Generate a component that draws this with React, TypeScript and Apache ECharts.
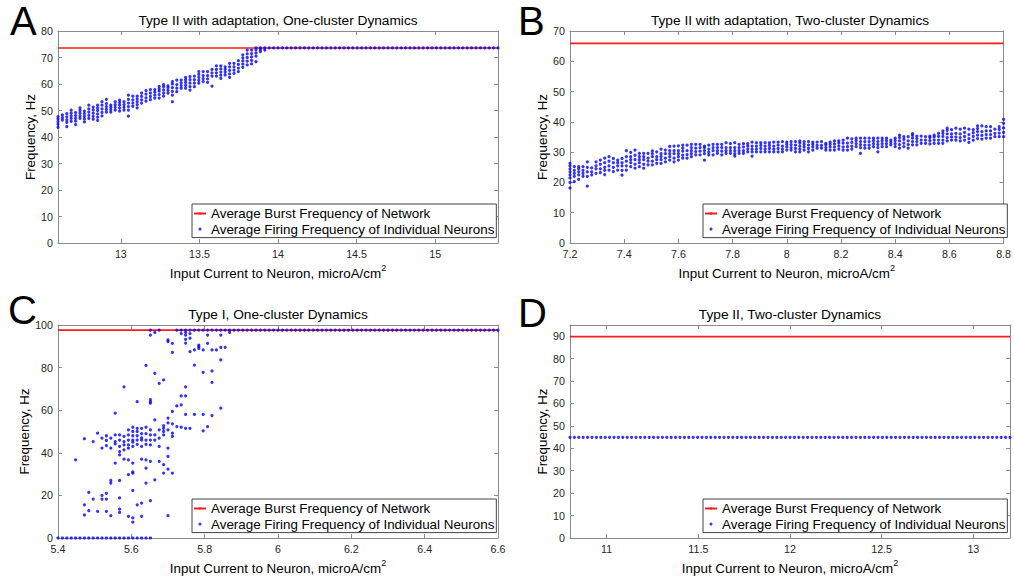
import React, { useEffect, useRef } from "react";
import * as echarts from "echarts";

const FONT = '"Liberation Sans", Arial, Helvetica, sans-serif';

const BURST = "Average Burst Frequency of Network";
const FIRING = "Average Firing Frequency of Individual Neurons";
const X_NAME = "Input Current to Neuron, microA/cm{sup|2}";
const Y_NAME = "Frequency, Hz";

// ---------- Panel A : Type II with adaptation, One-cluster ----------
const aTitle = "Type II with adaptation, One-cluster Dynamics";
const aStart = 12.6;
const aStep = 0.028;
const aCount = 101;
const aXRange = [12.6, 15.4];
const aYMax = 80;
const aYStep = 10;
const aBurst = 73.6;
const aLocked = 73.6; // columns after the listed ones are locked to the burst
const aCols: number[][] = [
  [43.6, 44.8, 45.8, 46.8, 47.7],
  [46.4, 47.3, 48.3],
  [43.9, 45.5, 46.5, 47.6, 48.8],
  [45.9, 47, 48, 49, 50.1],
  [44.7, 46, 47, 48.1, 49.2],
  [47, 48, 49, 50, 51],
  [45.7, 46.8, 47.8, 48.8, 49.8],
  [47, 48.2, 49.4, 50.6, 52],
  [46.7, 47.8, 49, 50.2, 51.3],
  [46.3, 47.5, 48.7, 50, 51, 52],
  [48, 49.3, 50.6, 52, 53.3],
  [49.4, 50.4, 51.5, 52.6, 54.2],
  [49.4, 50.3, 51.2, 52],
  [50.1, 51.2, 52.2, 53.3],
  [49.8, 50.9, 52, 53, 53.9],
  [50.1, 51.2, 52.2, 53.3],
  [47.9, 50.1, 51.5, 52.8, 54.2, 55.8],
  [51.6, 52.8, 54, 55.4],
  [51, 52.2, 53.3, 54.4, 55.4],
  [52.8, 54, 55.3, 56.6],
  [53.5, 54.8, 56.2, 57.5],
  [54.1, 55.3, 56.6, 57.9],
  [54.7, 55.8, 56.9, 57.9],
  [54.7, 56, 57.3, 58.2, 59.1],
  [55.4, 56.6, 57.8, 59, 59.8],
  [56.6, 57.6, 58.6, 59.3],
  [53.3, 55.8, 57.2, 58.6, 60, 60.9],
  [57.1, 58.4, 59.8, 61.5],
  [58.4, 59.4, 60.4, 61.5],
  [58.4, 59.5, 60.6, 61.6, 62.5],
  [57.7, 59, 60.3, 61.6, 62.8],
  [59, 60.3, 61.6, 63],
  [60.3, 61.4, 62.5, 63.6, 64.7],
  [60.9, 62, 63.2, 64.7],
  [60.6, 61.9, 63.2, 64.7],
  [59.2, 63, 64.2, 65.5],
  [63, 64.2, 65.5, 66.8],
  [62.1, 63.3, 64.5, 65.7, 66.8],
  [63.4, 64.5, 65.5, 66.5],
  [62.5, 63.8, 65.1, 66.5, 67.8],
  [64, 65.2, 66.5, 67.8],
  [64.7, 66, 67.4, 68.8],
  [66.3, 67.5, 68.7, 69.9, 71],
  [67.2, 68.6, 70, 71.4, 72.8],
  [67.6, 68.9, 70.2, 71.5, 72.8],
  [68.4, 70.5, 71.7, 72.9, 73.6],
  [72.2, 73, 73.6],
  [72.8, 73.6],
];

// ---------- Panel B : Type II with adaptation, Two-cluster ----------
const bTitle = "Type II with adaptation, Two-cluster Dynamics";
const bStart = 7.2;
const bStep = 0.016;
const bCount = 101;
const bXRange = [7.2, 8.8];
const bXStep = 0.2;
const bYMax = 70;
const bYStep = 10;
const bBurst = 65.9;
const bCols: number[][] = [
  [18.2, 20, 21.5, 22.5, 23.5, 24.5, 25.5, 26.3],
  [20.3, 22, 23, 24, 25.2],
  [21, 22.5, 23.5, 24.5, 25.2],
  [22, 23, 24, 25.2],
  [18.8, 22, 23.5, 25, 26.8],
  [22.5, 23.5, 24.8],
  [23, 24.5, 25.5, 26.8],
  [23.2, 24.5, 26, 27.4],
  [22.6, 24, 25, 26.5, 28],
  [24.1, 25.5, 27, 28.5],
  [23.6, 25, 26.5, 27.9],
  [24.1, 25.5, 26.5, 27.4],
  [22.4, 24, 25.5, 26.5, 27.9],
  [24.1, 25.5, 27, 28.5, 30.5],
  [25.2, 26.5, 27.5, 28.5, 29.9],
  [24.7, 26, 27.5, 29, 30.7],
  [25.2, 26.5, 27.5, 28.5, 29.6],
  [24.7, 26, 27.5, 28.5, 29.6],
  [25.8, 27, 28, 29.6],
  [25.8, 27, 28.5, 29.5, 30.4],
  [26.3, 27.5, 28.5, 30.1],
  [26.3, 27.5, 28.5, 29.5, 31],
  [26.8, 28, 29.5, 30.7],
  [27.4, 28.5, 29.5, 30.5, 31.9],
  [26.8, 28, 29.5, 30.5, 32],
  [27.4, 28.5, 29.5, 30.5, 32.1],
  [28, 29, 30.3, 31.3, 32.3],
  [28, 29.2, 30.5, 32.3],
  [28.5, 29.5, 30.5, 31.5, 32.6],
  [29.1, 30.2, 31.3, 32.6],
  [29.1, 30.3, 31.5, 32.6],
  [27.4, 29.5, 30.5, 31.5, 32],
  [29.1, 30, 31, 32.3],
  [29.1, 30.5, 31.5, 32.6],
  [29.6, 30.5, 31.5, 32.6],
  [29.1, 30.3, 31.5, 32.6],
  [29.6, 30.5, 31.5, 33.1],
  [29.6, 30.5, 31.5, 32.8],
  [28.7, 29.5, 30.5, 31.5, 33.1],
  [29.6, 30.5, 31.5, 32.6],
  [29.6, 30.5, 31.7, 32.8],
  [30.1, 31, 32, 32.8],
  [28.7, 30.1, 31, 32, 33.3],
  [30.1, 31, 32, 33.1],
  [30.1, 31.2, 32.2, 33.1],
  [30.1, 31, 32, 33.1],
  [30.1, 31.2, 32.2, 33.1],
  [30.1, 31, 32, 33.3],
  [30.1, 31.2, 32.3, 33.3],
  [30.1, 31, 32, 33.5],
  [30.7, 31.7, 32.6, 33.3],
  [30.7, 31.5, 32.5, 33.5],
  [30.1, 31.2, 32.3, 33.5],
  [30.1, 31, 32, 33, 33.7],
  [30.7, 31.7, 32.6, 33.5],
  [30.1, 31.2, 32.3, 33.5],
  [30.7, 31.7, 32.6, 33.3],
  [31.3, 32.2, 33.3],
  [31.3, 32.2, 33.5],
  [30.7, 31.5, 32.4, 32.9],
  [30.7, 31.7, 32.6, 33.3],
  [30.7, 31.7, 32.7, 33.7],
  [31, 32, 33, 33.7],
  [30.7, 31.7, 33, 34],
  [30.7, 31.8, 33, 34.6],
  [31, 32, 33.2, 34.4],
  [31.8, 32.8, 33.8, 34.6],
  [29.6, 31.5, 32.5, 33.5, 34.6],
  [31.3, 32.3, 33.5, 34.6],
  [31.3, 32.3, 33.5, 34.6],
  [31.8, 32.8, 33.8, 34.6],
  [30.1, 31.5, 32.5, 33.5, 34.6],
  [31.8, 32.8, 33.8, 34.6],
  [31.8, 32.8, 33.8, 34.6],
  [32.4, 33.2, 34],
  [31.8, 32.8, 33.8, 34.6],
  [31.3, 32.5, 33.7, 34.8, 35.6],
  [31.8, 33, 34.2, 35.1],
  [31.3, 32.5, 33.7, 35.1],
  [32.4, 33.5, 34.6, 35.5, 36.1],
  [32.4, 33.5, 34.5, 35.3],
  [32.9, 34, 35.3],
  [32.9, 34, 35.1],
  [32.7, 33.8, 34.8, 35.3],
  [32.9, 34, 35, 35.6],
  [32.9, 34, 35.2, 36.2],
  [32.9, 34, 35.2, 36.2, 37],
  [33.7, 34.8, 36, 37.2, 37.9],
  [34, 35, 36, 37.4],
  [34, 35, 36.2, 37.9],
  [33.7, 34.8, 36, 37.6],
  [34, 35.2, 36.5, 37.9],
  [33.2, 34.5, 35.8, 37.6],
  [34, 35.2, 36.4, 37.4],
  [34.5, 35.6, 36.8, 37.8, 38.7],
  [34.3, 35.5, 36.8, 38.7],
  [34.6, 35.8, 37, 38.4],
  [34.6, 35.8, 37, 38.4],
  [35.1, 36.2, 37.6],
  [35.1, 36.3, 37.5, 38.4],
  [35.1, 36.5, 38, 39.5, 40.8],
];

// ---------- Panel C : Type I, One-cluster ----------
const cTitle = "Type I, One-cluster Dynamics";
const cStart = 5.4;
const cStep = 0.012;
const cCount = 101;
const cXRange = [5.4, 6.6];
const cXStep = 0.2;
const cYMax = 100;
const cYStep = 20;
const cBurst = 97.6;
const cLocked = 97.6;
const cCols: number[][] = [
  [0],
  [0],
  [0],
  [0],
  [0, 36.7],
  [0],
  [0, 10.8, 15.6, 46.6],
  [0, 12.8, 21.4],
  [0, 18.3, 45.3],
  [0, 12.5, 49.2],
  [0, 18.3, 20, 42.2, 46.9],
  [0, 12.5, 18.3, 21, 43.4, 45.8, 48],
  [0, 10.5, 25.8, 27, 42.2, 46.9],
  [0, 35.2, 44.2, 45.3, 48.4, 58.6],
  [0, 12, 13.6, 18.8, 27, 39, 40.6, 43, 46, 48.4],
  [0, 37, 41.4, 43.7, 45.3, 47.7, 71],
  [0, 10.2, 29.7, 36.7, 42.2, 43.7, 46, 48.4, 50.8],
  [0, 7.5, 9.4, 22.3, 30.5, 31, 35.2, 43, 45, 46, 48, 50, 52],
  [0, 15.6, 44, 46, 48, 50, 51.5, 64],
  [0, 10.2, 16.4, 37, 43, 46, 47, 49, 51.5],
  [0, 25.8, 32.8, 36.7, 44, 46, 49, 52, 81],
  [0, 17.5, 36, 43.7, 46, 48.4, 50.8, 63.3, 64, 65, 95.3, 97.6],
  [27.3, 46, 48.4, 55.5, 77.3, 96.5],
  [36, 43, 46.9, 50.8, 72.6, 97.6],
  [30.5, 34.4, 48.4, 50, 51.5, 52.7, 74.2],
  [10.5, 32.3, 38.3, 42.2, 50.8, 54, 56.3, 92.2, 93],
  [30.5, 47.7, 49.2, 53.6, 59.4, 87.2, 91.4],
  [52.3, 62, 97.6],
  [52, 62.5, 66.7, 96, 97.6],
  [51.5, 58, 66.7, 71, 91.5, 93.3, 95.3, 96.5, 97.6],
  [51.5, 87.5, 93.8, 96, 97.6],
  [58, 81.2, 88.3, 97.6],
  [89, 89.8, 90.6, 97.6],
  [50.3, 58, 77.8, 88.3, 97.6],
  [52.3, 91.4, 95.3, 97.6],
  [57.5, 73.1, 78.4, 88.3, 97.6],
  [88.3, 97.6],
  [61, 83.6, 89.5, 95.3, 97.6],
  [89.5, 97.6],
  [96.5, 97.6],
  [97.6],
];

// ---------- Panel D : Type II, Two-cluster ----------
const dTitle = "Type II, Two-cluster Dynamics";
const dStart = 10.8;
const dStep = 0.024;
const dCount = 101;
const dXRange = [10.8, 13.2];
const dYMax = 95;
const dYStep = 10;
const dBurst = 89.8;
const dLocked = 44.9;
const dCols: number[][] = [];

function buildPoints(start: number, step: number, count: number, cols: number[][], locked: number | null) {
  const pts: number[][] = [];
  for (let i = 0; i < count; i++) {
    const x = Math.round((start + step * i) * 10000) / 10000;
    const vals = i < cols.length ? cols[i] : locked == null ? [] : [locked];
    for (const v of vals) pts.push([x, v]);
  }
  return pts;
}

const panels = [
  { letter: "A", title: aTitle, xRange: aXRange, xStep: undefined as number | undefined, yMax: aYMax, yStep: aYStep, burst: aBurst,
    points: buildPoints(aStart, aStep, aCount, aCols, aLocked), edgeX: false, hideTopY: false },
  { letter: "B", title: bTitle, xRange: bXRange, xStep: bXStep, yMax: bYMax, yStep: bYStep, burst: bBurst,
    points: buildPoints(bStart, bStep, bCount, bCols, null), edgeX: true, hideTopY: false },
  { letter: "C", title: cTitle, xRange: cXRange, xStep: cXStep, yMax: cYMax, yStep: cYStep, burst: cBurst,
    points: buildPoints(cStart, cStep, cCount, cCols, cLocked), edgeX: true, hideTopY: false },
  { letter: "D", title: dTitle, xRange: dXRange, xStep: undefined as number | undefined, yMax: dYMax, yStep: dYStep, burst: dBurst,
    points: buildPoints(dStart, dStep, dCount, dCols, dLocked), edgeX: false, hideTopY: true },
];

// layout (pixels)
const layouts = [
  { left: 58, top: 31, width: 440, height: 212, titleTop: 13, yNameGap: 17, legLeft: 192, legTop: 204, letX: 10, letY: 21 },
  { left: 570, top: 31, width: 440, height: 212, titleTop: 13, yNameGap: 15, legLeft: 703, legTop: 204, letX: 518, letY: 21 },
  { left: 58, top: 325, width: 440, height: 213, titleTop: 307, yNameGap: 23, legLeft: 192, legTop: 499, letX: 8, letY: 310 },
  { left: 570, top: 325, width: 440, height: 213, titleTop: 307, yNameGap: 15, legLeft: 703, legTop: 499, letX: 518, letY: 313 },
];

const AXIS_COLOR = "#8a8a8a";
const LABEL_COLOR = "#262626";

function buildOption() {
  const grid: any[] = [];
  const xAxis: any[] = [];
  const yAxis: any[] = [];
  const series: any[] = [];
  const title: any[] = [];
  const legend: any[] = [];
  const graphic: any[] = [];

  panels.forEach((p, i) => {
    const l = layouts[i];
    grid.push({ left: l.left, top: l.top, width: l.width, height: l.height, containLabel: false });
    const line = { show: true, onZero: false, lineStyle: { color: AXIS_COLOR, width: 1 } };
    const tick = { show: true, inside: true, length: 4, lineStyle: { color: AXIS_COLOR, width: 1 } };
    const xBase: any = {
      type: "value", gridIndex: i, min: p.xRange[0], max: p.xRange[1], splitLine: { show: false },
      axisLine: line, axisTick: tick,
    };
    if (p.xStep !== undefined) xBase.interval = p.xStep;
    xAxis.push({
      ...xBase, position: "bottom",
      axisLabel: { show: true, fontSize: 10.7, color: LABEL_COLOR, fontFamily: FONT, margin: 5,
        showMinLabel: p.edgeX, showMaxLabel: p.edgeX },
      name: X_NAME, nameLocation: "middle", nameGap: 20,
      nameTextStyle: { fontSize: 13.4, color: "#000", fontFamily: FONT,
        rich: { sup: { fontSize: 9, color: "#000", fontFamily: FONT, padding: [0, 0, 11, 0] } } },
    });
    xAxis.push({ ...xBase, position: "top", axisLabel: { show: false } });
    const yBase: any = {
      type: "value", gridIndex: i, min: 0, max: p.yMax, interval: p.yStep, splitLine: { show: false },
      axisLine: line, axisTick: tick,
    };
    yAxis.push({
      ...yBase, position: "left",
      axisLabel: { show: true, fontSize: 10.7, color: LABEL_COLOR, fontFamily: FONT, margin: 5,
        showMaxLabel: !p.hideTopY },
      name: Y_NAME, nameLocation: "middle", nameGap: l.yNameGap,
      nameTextStyle: { fontSize: 13.4, color: "#000", fontFamily: FONT },
    });
    yAxis.push({ ...yBase, position: "right", axisLabel: { show: false } });

    series.push({
      type: "line", name: BURST, xAxisIndex: 2 * i, yAxisIndex: 2 * i,
      data: [[p.xRange[0], p.burst], [p.xRange[1], p.burst]],
      symbol: "none", lineStyle: { color: "#ff1a1a", width: 1.6 }, itemStyle: { color: "#ff1a1a" }, z: 2,
    });
    series.push({
      type: "scatter", name: FIRING, xAxisIndex: 2 * i, yAxisIndex: 2 * i,
      data: p.points, symbol: "circle", symbolSize: 3.2, itemStyle: { color: "#0000ff" }, z: 3,
    });

    title.push({
      text: p.title, left: l.left + l.width / 2, top: l.titleTop, textAlign: "center", padding: 0,
      textStyle: { fontSize: 13.7, fontWeight: "normal", color: "#000", fontFamily: FONT },
    });

    legend.push({
      show: true, orient: "vertical", left: l.legLeft, top: l.legTop, align: "left",
      data: [{ name: BURST }, { name: FIRING, icon: "circle" }],
      itemWidth: 12, itemHeight: 3, itemGap: 2.6, padding: [3, 2, 2, 1],
      borderColor: "#444", borderWidth: 1, backgroundColor: "#fff", selectedMode: false,
      textStyle: { fontSize: 13.4, color: "#000", fontFamily: FONT },
    });

    graphic.push({
      type: "text", x: l.letX, y: l.letY,
      style: { text: p.letter, fontSize: 40, lineHeight: 30, fontFamily: FONT, fill: "#000",
        verticalAlign: "middle", align: "left" },
    });
  });

  return {
    animation: false,
    backgroundColor: "#fff",
    grid, xAxis, yAxis, series, title, legend, graphic,
  };
}

export default function App() {
  const ref = useRef<HTMLDivElement>(null);
  useEffect(() => {
    if (!ref.current) return;
    const chart = echarts.init(ref.current, null, { renderer: "svg" });
    chart.setOption(buildOption() as any);
    return () => chart.dispose();
  }, []);
  return (
    <div
      ref={ref}
      style={{ position: "fixed", left: 0, top: 0, width: 1014, height: 579, background: "#fff" }}
    />
  );
}
